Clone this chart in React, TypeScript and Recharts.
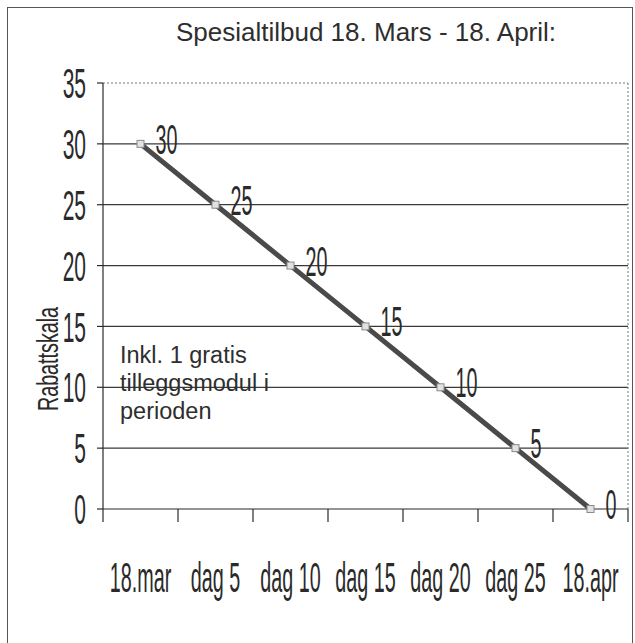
import { LineChart, Line, XAxis, YAxis, ReferenceLine, LabelList } from 'recharts';

const categories = ['18.mar', 'dag 5', 'dag 10', 'dag 15', 'dag 20', 'dag 25', '18.apr'];
const discount = [30, 25, 20, 15, 10, 5, 0];
const yTicks = [0, 5, 10, 15, 20, 25, 30, 35];
const xTicks = [0, 1, 2, 3, 4, 5, 6, 7];
const title = 'Spesialtilbud 18. Mars - 18. April:';
const note = ['Inkl. 1 gratis', 'tilleggsmodul i', 'perioden'];

const W = 635;
const H = 643;
const xAxisHeight = 30;
// plot box: x 103..628, y 83..509
const margin = { top: 83, right: 7, bottom: 134 - xAxisHeight, left: 0 };
const yAxisWidth = 103;
const halfBand = (W - yAxisWidth - margin.right) / categories.length / 2;

const ink = '#2a2a2a';
const narrow = '"Liberation Sans", Arial, sans-serif';

const data = categories.map((c, i) => ({ pos: i + 0.5, label: c, value: discount[i] }));

function XTick({ x, y, payload }: any) {
  const name = categories[payload.value];
  if (!name) return <g />;
  return (
    <text
      transform={`translate(${x + halfBand},${y + 70}) scale(0.47,1)`}
      textAnchor="middle"
      fontFamily={narrow}
      fontSize={42}
      fill={ink}
    >
      {name}
    </text>
  );
}

function YTick({ x, y, payload }: any) {
  return (
    <text
      transform={`translate(${x},${y}) scale(0.5,1)`}
      textAnchor="end"
      dy="0.36em"
      fontFamily={narrow}
      fontSize={42}
      fill={ink}
    >
      {payload.value}
    </text>
  );
}

function YLabel() {
  return (
    <text
      transform="translate(58,359) rotate(-90) scale(0.68,1)"
      textAnchor="middle"
      fontFamily={narrow}
      fontSize={29}
      fill={ink}
    >
      Rabattskala
    </text>
  );
}

function ValueLabel({ x, y, value }: any) {
  return (
    <text
      transform={`translate(${x + 15},${y + 10}) scale(0.47,1)`}
      textAnchor="start"
      fontFamily={narrow}
      fontSize={42}
      fill={ink}
    >
      {value}
    </text>
  );
}

function Marker({ cx, cy }: any) {
  return <rect x={cx - 3.5} y={cy - 3.5} width={7} height={7} fill="#e2e2e2" stroke="#8a8a8a" strokeWidth={1} />;
}

export default function App() {
  return (
    <div style={{ position: 'absolute', left: 0, top: 0, width: W, height: H, background: '#fff', overflow: 'hidden' }}>
      <div
        style={{
          position: 'absolute',
          left: 7,
          top: 7,
          width: 624,
          height: 660,
          border: '1px solid #555',
        }}
      />
      <LineChart width={W} height={H} data={data} margin={margin} style={{ position: 'absolute', left: 0, top: 0 }}>
        {yTicks.slice(1, -1).map((t) => (
          <ReferenceLine key={t} y={t} stroke="#3a3a3a" strokeWidth={1.2} />
        ))}
        <ReferenceLine y={35} stroke="#777" strokeDasharray="2 2" />
        <ReferenceLine x={7} stroke="#777" strokeDasharray="2 2" />
        <XAxis
          type="number"
          dataKey="pos"
          domain={[0, 7]}
          ticks={xTicks}
          interval={0}
          height={xAxisHeight}
          tickSize={13}
          tickMargin={0}
          tick={<XTick />}
          axisLine={{ stroke: ink, strokeWidth: 1.2 }}
          tickLine={{ stroke: ink, strokeWidth: 1.2 }}
        />
        <YAxis
          type="number"
          domain={[0, 35]}
          ticks={yTicks}
          interval={0}
          width={yAxisWidth}
          tickSize={6}
          tickMargin={11}
          tick={<YTick />}
          axisLine={{ stroke: ink, strokeWidth: 1.2 }}
          tickLine={{ stroke: ink, strokeWidth: 1.2 }}
          label={<YLabel />}
        />
        <Line
          type="linear"
          dataKey="value"
          stroke="#4a4a4a"
          strokeWidth={5}
          dot={<Marker />}
          activeDot={false}
          isAnimationActive={false}
        >
          <LabelList dataKey="value" content={<ValueLabel />} />
        </Line>
      </LineChart>
      <div
        style={{
          position: 'absolute',
          left: 0,
          width: 732,
          top: 16,
          textAlign: 'center',
          fontFamily: '"Liberation Sans", Arial, sans-serif',
          fontSize: 26,
          color: '#2e2e2e',
          lineHeight: '32px',
        }}
      >
        {title}
      </div>
      <div
        style={{
          position: 'absolute',
          left: 120,
          top: 341,
          fontFamily: '"Liberation Sans", Arial, sans-serif',
          fontSize: 23.5,
          lineHeight: '28px',
          color: '#2e2e2e',
        }}
      >
        {note.map((l) => (
          <div key={l}>{l}</div>
        ))}
      </div>
    </div>
  );
}
